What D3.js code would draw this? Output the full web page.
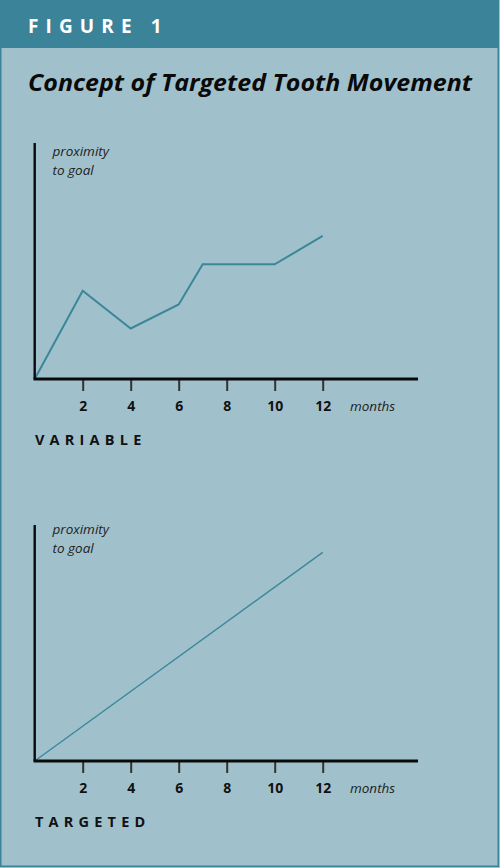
<!DOCTYPE html>
<html>
<head>
<meta charset="utf-8">
<script src="https://cdn.jsdelivr.net/npm/d3@7"></script>
<style>
  body { margin: 0; background: #fff; }
  svg { display: block; }
</style>
</head>
<body>
<div class="chart"></div>
<script>
// months on the x axis
var months = [2, 4, 6, 8, 10, 12];
// proximity to goal, 0..100 of the y axis height
var variableMonths = [0, 2, 4, 6, 7, 10, 12];
var variableValues = [0, 37.4, 21.4, 31.6, 48.6, 48.6, 60.6];
var targetedMonths = [0, 12];
var targetedValues = [0, 88.4];

var panels = [
  { name: "VARIABLE", months: variableMonths, values: variableValues, top: 143, labelDy: 13 },
  { name: "TARGETED", months: targetedMonths, values: targetedValues, top: 525, labelDy: 8.5 }
];

var width = 500, height = 868;
var teal = "#3a8398";
var panelFill = "#a0c1cc";
var lineColor = "#3b8799";

var svg = d3.select(".chart").append("svg")
    .attr("width", width)
    .attr("height", height);

/* frame */
svg.append("rect")
    .attr("x", 0).attr("y", 0)
    .attr("width", width).attr("height", height)
    .attr("fill", panelFill);
svg.append("rect")
    .attr("x", 0.75).attr("y", 0.75)
    .attr("width", width - 2.5).attr("height", height - 2.5)
    .attr("fill", "none")
    .attr("stroke", teal)
    .attr("stroke-width", 1.5);
svg.append("rect")
    .attr("x", 0).attr("y", 0)
    .attr("width", width - 1.5).attr("height", 48)
    .attr("fill", teal);

svg.append("text")
    .attr("x", 28).attr("y", 33)
    .attr("fill", "#fff")
    .style("font-family", "'Open Sans', sans-serif")
    .style("font-weight", "700")
    .style("font-size", "19px")
    .style("letter-spacing", "7.1px")
    .text("FIGURE 1");

svg.append("text")
    .attr("x", 28).attr("y", 91)
    .attr("fill", "#0a0a0a")
    .attr("textLength", 444)
    .attr("lengthAdjust", "spacingAndGlyphs")
    .style("font-family", "'Open Sans', sans-serif")
    .style("font-weight", "700")
    .style("font-style", "italic")
    .style("font-size", "24px")
    .text("Concept of Targeted Tooth Movement");

var x0 = 34.7, axisH = 236;
var xScale = d3.scaleLinear().domain([0, 12]).range([x0, x0 + 288]);

panels.forEach(function(p) {
  var base = p.top + axisH;
  var yScale = d3.scaleLinear().domain([0, 100]).range([base, p.top]);
  var g = svg.append("g");

  /* line */
  var line = d3.line()
      .x(function(d) { return xScale(d[0]); })
      .y(function(d) { return yScale(d[1]); });
  g.append("path")
      .datum(d3.zip(p.months, p.values))
      .attr("d", line)
      .attr("fill", "none")
      .attr("stroke", lineColor)
      .attr("stroke-width", p.name == "VARIABLE" ? 2 : 1.4)
      .attr("stroke-linejoin", "miter");

  /* x axis */
  var xAxis = d3.axisBottom(xScale)
      .tickValues(months)
      .tickSize(12)
      .tickPadding(10);
  var ax = g.append("g")
      .attr("transform", "translate(0," + base + ")")
      .call(xAxis);
  ax.select(".domain").remove();
  ax.selectAll(".tick line").attr("stroke", "#333").attr("stroke-width", 2);
  ax.selectAll(".tick text")
      .attr("fill", "#111")
      .style("font-family", "'Open Sans', sans-serif")
      .style("font-weight", "700")
      .style("font-size", "14px");

  g.append("line")
      .attr("x1", x0 - 1.2).attr("x2", 418)
      .attr("y1", base).attr("y2", base)
      .attr("stroke", "#0a0a0a").attr("stroke-width", 3);
  g.append("line")
      .attr("x1", x0).attr("x2", x0)
      .attr("y1", p.top).attr("y2", base)
      .attr("stroke", "#0a0a0a").attr("stroke-width", 2.4);

  /* labels */
  var it = { "font-family": "'Open Sans', sans-serif", "font-style": "italic", "font-size": "13.5px" };
  function style(t, s) { for (var k in s) t.style(k, s[k]); return t; }
  style(g.append("text").attr("x", 52.5).attr("y", p.top + p.labelDy).attr("fill", "#222").text("proximity"), it);
  style(g.append("text").attr("x", 52.5).attr("y", p.top + p.labelDy + 19).attr("fill", "#222").text("to goal"), it);
  style(g.append("text").attr("x", 350).attr("y", base + 32).attr("fill", "#222").text("months"), it);

  g.append("text")
      .attr("x", 35).attr("y", base + 66)
      .attr("fill", "#111")
      .style("font-family", "'Open Sans', sans-serif")
      .style("font-weight", "700")
      .style("font-size", "14.5px")
      .style("letter-spacing", "5.2px")
      .text(p.name);
});
</script>
</body>
</html>
